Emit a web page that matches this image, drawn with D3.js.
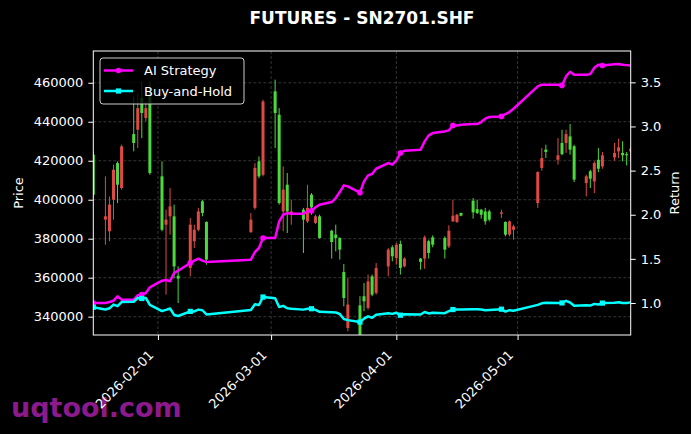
<!DOCTYPE html>
<html>
<head>
<meta charset="utf-8">
<script src="https://cdn.jsdelivr.net/npm/d3@7"></script>
<style>
  body { margin: 0; background: #000; }
  svg { display: block; font-family: "DejaVu Sans", sans-serif; }
</style>
</head>
<body>
<div id="container"></div>
<script>
/* DATA */
const dates = ["2026-01-16","2026-01-19","2026-01-20","2026-01-21","2026-01-22","2026-01-23","2026-01-26","2026-01-27","2026-01-28","2026-01-29","2026-01-30",
  "2026-02-02","2026-02-03","2026-02-04","2026-02-05","2026-02-06","2026-02-09","2026-02-10","2026-02-11","2026-02-12","2026-02-13","2026-02-24","2026-02-25","2026-02-26","2026-02-27",
  "2026-03-02","2026-03-03","2026-03-04","2026-03-05","2026-03-06","2026-03-09","2026-03-10","2026-03-11","2026-03-12","2026-03-13","2026-03-16","2026-03-17","2026-03-18","2026-03-19","2026-03-20","2026-03-23","2026-03-24","2026-03-25","2026-03-26","2026-03-27","2026-03-30","2026-03-31",
  "2026-04-01","2026-04-02","2026-04-03","2026-04-07","2026-04-08","2026-04-09","2026-04-10","2026-04-13","2026-04-14","2026-04-15","2026-04-16","2026-04-17","2026-04-20","2026-04-21","2026-04-22","2026-04-23","2026-04-24","2026-04-27","2026-04-28","2026-04-29","2026-04-30",
  "2026-05-06","2026-05-07","2026-05-08","2026-05-11","2026-05-12","2026-05-13","2026-05-14","2026-05-15","2026-05-18","2026-05-19","2026-05-20","2026-05-21","2026-05-22","2026-05-25","2026-05-26","2026-05-27","2026-05-28","2026-05-29"]

const opens = [423100,389800,383800,400000,418800,406000,433700,435900,452200,441900,454700,
  412000,387200,391500,391500,361000,365000,378700,384600,399200,388600,383400,395800,419700,412800,
  455600,443600,394000,407700,392300,394900,388900,402600,388100,391500,384100,382100,380400,362900,334200,345800,350500,344500,360700,352200,365800,375600,
  370100,377300,365800,369800,369800,378700,380700,380400,376100,388900,388600,393200,399500,395200,394900,394000,394000,392800,388600,382100,384600,
  398300,416300,425700,420500,429100,429100,432500,427400,408600,414600,409400,420500,417100,421700,424800,424000,423400,424800]

const highs = [424800,412000,401700,418000,419700,428200,453000,454700,460700,450400,460700,
  419700,394900,406000,397500,365800,390600,387200,395800,400000,388900,393200,418800,422200,451300,
  461600,447000,417100,413700,400000,395800,407700,403400,392300,392300,384600,387200,380700,367000,359900,350500,357300,361600,361600,367500,375200,376600,
  377800,379000,370500,370100,381600,379500,381700,381200,386900,400000,392700,393400,400900,400000,395200,395800,394900,394900,388900,389300,387200,
  414600,426500,428200,431600,435900,435900,438800,428200,412800,415400,419700,426500,424500,429100,431300,430000,424500,426900]

const lows = [400900,376900,378700,389800,398300,405200,424800,426500,431600,440200,412800,
  383800,351300,382100,359900,347000,360700,375200,383800,391500,366700,382900,394900,411100,412000,
  426500,397500,383800,382900,387200,372700,388100,392300,387500,380000,369800,373500,369300,345300,332500,329100,342800,343600,350500,351300,360700,368400,
  366700,361600,365300,364100,364600,369800,375600,369800,375200,388600,388100,391500,390300,392700,390300,387200,388900,390600,381200,381200,379500,
  395800,414900,421400,418000,422800,424000,423100,409100,401700,406000,403400,414200,415900,420000,421400,419700,417600,420500]

const closes = [402600,391500,397500,415400,407700,427400,429100,447000,444500,447000,413700,
  384600,389800,396600,365800,359500,387200,384600,394000,393200,369300,389800,416300,412000,450400,
  444500,398300,405200,394000,394000,389800,395800,396100,391500,380400,378300,380400,374400,349600,346200,330800,347900,358100,351300,365000,374400,371000,
  376900,365000,369800,368100,380700,372700,376900,374400,384100,391800,392300,391800,393500,393200,392300,388900,389800,393500,382100,388900,386300,
  414200,421400,424500,422800,423400,433700,425700,410300,412000,410800,418800,415900,422800,424000,426900,422800,422800,426200]

const aiReturn = [1.000,1.000,1.011,1.026,1.076,1.038,1.038,1.087,1.095,1.113,1.178,
  1.253,1.261,1.246,1.340,1.366,1.453,1.480,1.502,1.480,1.465,1.491,1.578,1.623,1.736,
  1.736,1.925,2.000,2.019,2.012,2.012,2.038,2.046,2.084,2.114,2.144,2.189,2.257,2.333,2.321,2.250,2.378,2.446,2.461,2.521,2.586,2.567,
  2.612,2.699,2.725,2.737,2.831,2.899,2.925,2.944,2.956,3.012,3.012,3.020,3.027,3.027,3.050,3.088,3.107,3.114,3.141,3.163,3.201,
  3.454,3.473,3.473,3.473,3.465,3.567,3.620,3.585,3.586,3.593,3.665,3.700,3.690,3.705,3.708,3.700,3.695,3.690]

const bhReturn = [0.952,0.926,0.940,0.982,0.964,1.010,1.014,1.057,1.051,1.057,0.978,
  0.909,0.922,0.938,0.865,0.853,0.905,0.905,0.925,0.918,0.870,0.920,0.985,0.978,1.068,
  1.055,0.955,0.968,0.940,0.935,0.925,0.935,0.935,0.922,0.900,0.895,0.893,0.875,0.818,0.806,0.784,0.823,0.849,0.833,0.866,0.885,0.877,
  0.889,0.862,0.872,0.870,0.898,0.882,0.890,0.885,0.908,0.926,0.927,0.926,0.930,0.930,0.927,0.919,0.921,0.930,0.903,0.919,0.913,
  0.979,0.996,1.003,0.999,1.001,1.025,1.006,0.970,0.974,0.971,0.990,0.983,0.999,1.002,1.009,0.999,0.999,1.007]

const priceTicks = [340000, 360000, 380000, 400000, 420000, 440000, 460000]
const returnTicks = [1.0, 1.5, 2.0, 2.5, 3.0, 3.5]
const dateTicks = ["2026-02-01", "2026-03-01", "2026-04-01", "2026-05-01"]
const priceLimits = [330600, 476300]
const returnLimits = [0.6375, 3.855]

/* CONSTANTS AND GLOBALS */
const width = 691,
  height = 434,
  margin = { top: 51, bottom: 99, left: 93.3, right: 60.3 }
const upColor = "#dd4a44",
  downColor = "#4cd93e",
  font = "DejaVu Sans, sans-serif"

const parse = d3.timeParse("%Y-%m-%d")
const data = dates.map((d, i) => ({
  date: parse(d),
  open: opens[i], high: highs[i], low: lows[i], close: closes[i],
  ai: aiReturn[i], bh: bhReturn[i], i
}))

// + SCALES
const xScale = d3.scaleTime()
  .domain(d3.extent(data, d => d.date))
  .range([margin.left, width - margin.right])

const yPrice = d3.scaleLinear()
  .domain(priceLimits)
  .range([height - margin.bottom, margin.top])

const yReturn = d3.scaleLinear()
  .domain(returnLimits)
  .range([height - margin.bottom, margin.top])

// CREATE SVG ELEMENT
const svg = d3.select("#container")
  .append("svg")
  .attr("width", width)
  .attr("height", height)
  .style("background", "#000")

svg.append("clipPath")
  .attr("id", "plot-clip")
  .append("rect")
  .attr("x", margin.left)
  .attr("y", margin.top)
  .attr("width", width - margin.left - margin.right)
  .attr("height", height - margin.top - margin.bottom)

// WATERMARK (sits under the tick labels)
svg.append("text")
  .attr("x", 11)
  .attr("y", 417)
  .attr("fill", "#8c1a8c")
  .style("font-size", "27px")
  .style("font-weight", "bold")
  .text("uqtool.com")

// GRID
const grid = svg.append("g")
  .attr("stroke", "#4a4a4a")
  .attr("stroke-width", 0.7)
  .attr("stroke-dasharray", "3,2")

grid.selectAll(".hgrid")
  .data(priceTicks)
  .join("line")
  .attr("x1", margin.left)
  .attr("x2", width - margin.right)
  .attr("y1", d => yPrice(d))
  .attr("y2", d => yPrice(d))

grid.selectAll(".vgrid")
  .data(dateTicks.map(parse))
  .join("line")
  .attr("x1", d => xScale(d))
  .attr("x2", d => xScale(d))
  .attr("y1", margin.top)
  .attr("y2", height - margin.bottom)

// CANDLES
const candles = svg.append("g")
  .attr("clip-path", "url(#plot-clip)")
  .selectAll("g")
  .data(data)
  .join("g")
  .attr("fill", d => d.close >= d.open ? upColor : downColor)
  .attr("stroke", d => d.close >= d.open ? upColor : downColor)

candles.append("line")
  .attr("x1", d => xScale(d.date))
  .attr("x2", d => xScale(d.date))
  .attr("y1", d => yPrice(d.high))
  .attr("y2", d => yPrice(d.low))
  .attr("stroke-width", 1)

candles.append("rect")
  .attr("x", d => xScale(d.date) - 1.5)
  .attr("width", 3)
  .attr("y", d => yPrice(Math.max(d.open, d.close)))
  .attr("height", d => Math.max(1, Math.abs(yPrice(d.open) - yPrice(d.close))))
  .attr("stroke", "none")

// LINE GENERATOR FUNCTIONS
const aiLine = d3.line()
  .x(d => xScale(d.date))
  .y(d => yReturn(d.ai))

const bhLine = d3.line()
  .x(d => xScale(d.date))
  .y(d => yReturn(d.bh))

const lines = svg.append("g").attr("clip-path", "url(#plot-clip)")

lines.append("path")
  .datum(data)
  .attr("fill", "none")
  .attr("stroke", "#ff00ff")
  .attr("stroke-width", 2.5)
  .attr("stroke-linejoin", "round")
  .attr("d", aiLine)

lines.append("path")
  .datum(data)
  .attr("fill", "none")
  .attr("stroke", "#00ffff")
  .attr("stroke-width", 2.5)
  .attr("stroke-linejoin", "round")
  .attr("d", bhLine)

// markers every 8th point
const marked = data.filter(d => d.i % 8 === 0)

lines.selectAll(".ai-mark")
  .data(marked)
  .join("circle")
  .attr("cx", d => xScale(d.date))
  .attr("cy", d => yReturn(d.ai))
  .attr("r", 2.8)
  .attr("fill", "#ff00ff")

lines.selectAll(".bh-mark")
  .data(marked)
  .join("rect")
  .attr("x", d => xScale(d.date) - 2.6)
  .attr("y", d => yReturn(d.bh) - 2.6)
  .attr("width", 5.2)
  .attr("height", 5.2)
  .attr("fill", "#00ffff")

// BUILD AND CALL AXES
function styleAxis(g) {
  g.select(".domain").remove()
  g.selectAll(".tick line").attr("stroke", "#fff")
  g.selectAll(".tick text")
    .attr("fill", "#fff")
    .style("font-size", "13px")
    .style("font-family", font)
}

svg.append("g")
  .attr("transform", `translate(${margin.left}, 0)`)
  .call(d3.axisLeft(yPrice).tickValues(priceTicks).tickFormat(d3.format("d")).tickSize(5).tickPadding(5))
  .call(styleAxis)

svg.append("g")
  .attr("transform", `translate(${width - margin.right}, 0)`)
  .call(d3.axisRight(yReturn).tickValues(returnTicks).tickFormat(d3.format(".1f")).tickSize(5).tickPadding(5))
  .call(styleAxis)

svg.append("g")
  .attr("transform", `translate(0, ${height - margin.bottom})`)
  .call(d3.axisBottom(xScale).tickValues(dateTicks.map(parse)).tickFormat(d3.timeFormat("%Y-%m-%d")).tickSize(5))
  .call(styleAxis)
  .selectAll(".tick text")
  .attr("x", 0)
  .attr("y", 0)
  .attr("dy", 0)
  .attr("text-anchor", "end")
  .attr("transform", "translate(-4, 21) rotate(-45)")

// FRAME
svg.append("rect")
  .attr("x", margin.left)
  .attr("y", margin.top)
  .attr("width", width - margin.left - margin.right)
  .attr("height", height - margin.top - margin.bottom)
  .attr("fill", "none")
  .attr("stroke", "#fff")
  .attr("stroke-width", 1)

// LABELS
svg.append("text")
  .attr("x", (margin.left + width - margin.right) / 2)
  .attr("y", 24)
  .attr("text-anchor", "middle")
  .attr("fill", "#fff")
  .style("font-size", "17px")
  .style("font-weight", "bold")
  .text("FUTURES - SN2701.SHF")

svg.append("text")
  .attr("transform", `translate(23, ${(margin.top + height - margin.bottom) / 2}) rotate(-90)`)
  .attr("text-anchor", "middle")
  .attr("fill", "#fff")
  .style("font-size", "13px")
  .text("Price")

svg.append("text")
  .attr("transform", `translate(679, ${(margin.top + height - margin.bottom) / 2}) rotate(-90)`)
  .attr("text-anchor", "middle")
  .attr("fill", "#fff")
  .style("font-size", "13px")
  .text("Return")

// LEGEND
const legend = svg.append("g").attr("transform", "translate(100, 58)")
legend.append("rect")
  .attr("width", 144)
  .attr("height", 46)
  .attr("rx", 3)
  .attr("fill", "#000")
  .attr("fill-opacity", 0.8)
  .attr("stroke", "#cccccc")
  .attr("stroke-width", 1)

const legendItems = [
  { label: "AI Strategy", color: "#ff00ff", shape: "circle" },
  { label: "Buy-and-Hold", color: "#00ffff", shape: "square" }
]
legendItems.forEach((item, k) => {
  const cy = 12.5 + k * 20.5
  legend.append("line")
    .attr("x1", 4).attr("x2", 33)
    .attr("y1", cy).attr("y2", cy)
    .attr("stroke", item.color)
    .attr("stroke-width", 2.5)
  if (item.shape === "circle") {
    legend.append("circle").attr("cx", 18.5).attr("cy", cy).attr("r", 2.8).attr("fill", item.color)
  } else {
    legend.append("rect").attr("x", 15.9).attr("y", cy - 2.6).attr("width", 5.2).attr("height", 5.2).attr("fill", item.color)
  }
  legend.append("text")
    .attr("x", 44)
    .attr("y", cy)
    .attr("dy", "0.35em")
    .attr("fill", "#fff")
    .style("font-size", "13px")
    .text(item.label)
})
</script>
</body>
</html>
